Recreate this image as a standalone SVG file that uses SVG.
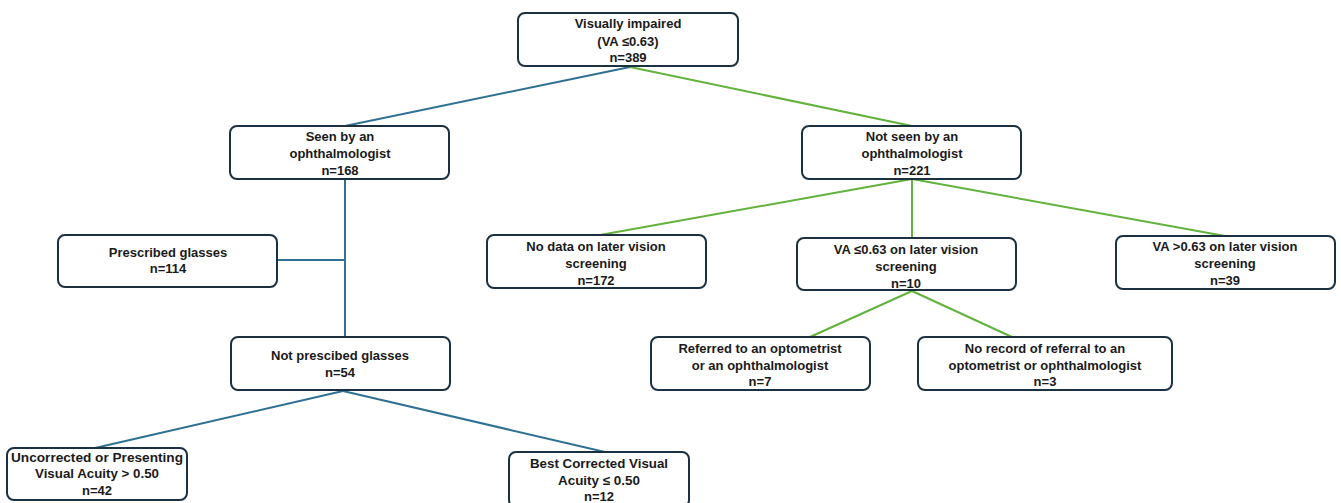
<svg xmlns="http://www.w3.org/2000/svg" width="1341" height="503" viewBox="0 0 1341 503">
<style>
.box{fill:#fff;stroke:#1b3142;stroke-width:2}
.t{font-family:"Liberation Sans",Arial,sans-serif;font-weight:bold;font-size:13px;fill:#1a1a1a;text-anchor:middle}
.b{stroke:#2f7093;stroke-width:2;fill:none}
.g{stroke:#63b23d;stroke-width:2;fill:none}
</style>
<rect width="1341" height="503" fill="#fff"/>
<g id="connectors">
<line class="b" x1="630" y1="67" x2="345" y2="126"/>
<line class="g" x1="630" y1="67" x2="912" y2="126"/>
<line class="b" x1="345" y1="179" x2="345" y2="337"/>
<line class="b" x1="277" y1="260" x2="345" y2="260"/>
<line class="b" x1="343" y1="391" x2="95" y2="448"/>
<line class="b" x1="343" y1="391" x2="605" y2="452"/>
<line class="g" x1="912" y1="179" x2="600" y2="235"/>
<line class="g" x1="912" y1="179" x2="912" y2="238"/>
<line class="g" x1="912" y1="179" x2="1225" y2="236"/>
<line class="g" x1="912" y1="291" x2="810" y2="337"/>
<line class="g" x1="912" y1="291" x2="1012" y2="337"/>
</g>
<g id="root"><rect class="box" x="518" y="13" width="220" height="53" rx="7"/>
<text class="t" x="628" y="28">Visually impaired</text><text class="t" x="628" y="46">(VA ≤0.63)</text><text class="t" x="628" y="62">n=389</text></g>
<g id="seen"><rect class="box" x="230" y="126" width="219" height="53" rx="7"/>
<text class="t" x="340" y="141">Seen by an</text><text class="t" x="340" y="158">ophthalmologist</text><text class="t" x="340" y="175">n=168</text></g>
<g id="notseen"><rect class="box" x="802" y="126" width="219" height="53" rx="7"/>
<text class="t" x="912" y="141">Not seen by an</text><text class="t" x="912" y="158">ophthalmologist</text><text class="t" x="912" y="175">n=221</text></g>
<g id="prescribed"><rect class="box" x="58" y="235" width="219" height="52" rx="7"/>
<text class="t" x="168" y="257">Prescribed glasses</text><text class="t" x="168" y="273">n=114</text></g>
<g id="nodata"><rect class="box" x="487" y="235" width="219" height="53" rx="7"/>
<text class="t" x="596" y="251">No data on later vision</text><text class="t" x="596" y="268">screening</text><text class="t" x="596" y="285">n=172</text></g>
<g id="valow"><rect class="box" x="797" y="238" width="219" height="52" rx="7"/>
<text class="t" x="906" y="254">VA ≤0.63 on later vision</text><text class="t" x="906" y="271">screening</text><text class="t" x="906" y="288">n=10</text></g>
<g id="vahigh"><rect class="box" x="1116" y="236" width="219" height="53" rx="7"/>
<text class="t" x="1225" y="251">VA &gt;0.63 on later vision</text><text class="t" x="1225" y="268">screening</text><text class="t" x="1225" y="285">n=39</text></g>
<g id="notprescribed"><rect class="box" x="231" y="337" width="219" height="53" rx="7"/>
<text class="t" x="340" y="360">Not prescibed glasses</text><text class="t" x="340" y="377">n=54</text></g>
<g id="referred"><rect class="box" x="651" y="337" width="219" height="53" rx="7"/>
<text class="t" x="760" y="353">Referred to an optometrist</text><text class="t" x="760" y="370">or an ophthalmologist</text><text class="t" x="760" y="386">n=7</text></g>
<g id="norecord"><rect class="box" x="918" y="337" width="254" height="53" rx="7"/>
<text class="t" x="1045" y="353">No record of referral to an</text><text class="t" x="1045" y="370">optometrist or ophthalmologist</text><text class="t" x="1045" y="386">n=3</text></g>
<g id="uncorrected"><rect class="box" x="7" y="448" width="180" height="52" rx="7"/>
<text class="t" x="97" y="462" textLength="172" lengthAdjust="spacingAndGlyphs">Uncorrected or Presenting</text><text class="t" x="97" y="478" textLength="124" lengthAdjust="spacingAndGlyphs">Visual Acuity &gt; 0.50</text><text class="t" x="97" y="495">n=42</text></g>
<g id="bestcorrected"><rect class="box" x="509" y="452" width="180" height="55" rx="7"/>
<text class="t" x="599" y="468" textLength="138" lengthAdjust="spacingAndGlyphs">Best Corrected Visual</text><text class="t" x="599" y="485" textLength="82" lengthAdjust="spacingAndGlyphs">Acuity ≤ 0.50</text><text class="t" x="599" y="501">n=12</text></g>
</svg>
